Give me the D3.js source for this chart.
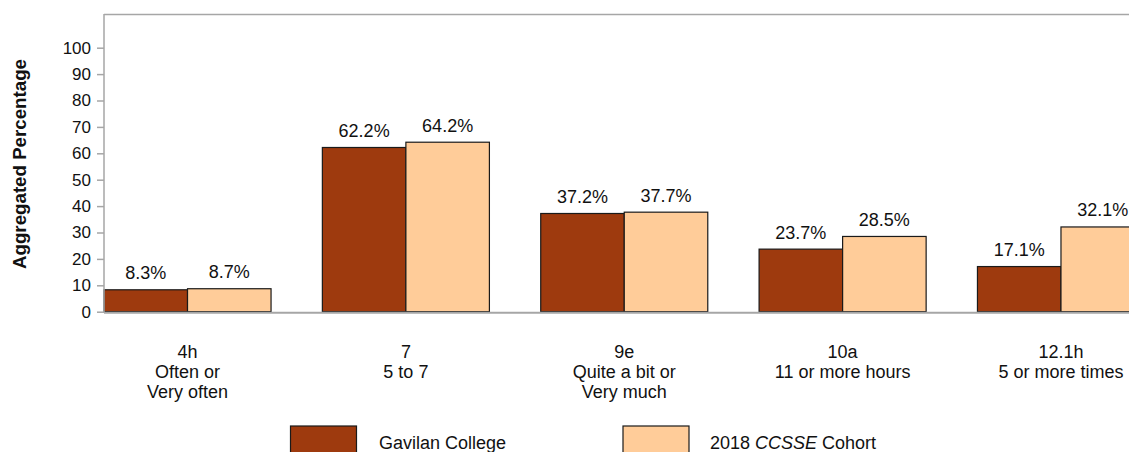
<!DOCTYPE html>
<html>
<head>
<meta charset="utf-8">
<script src="https://cdn.jsdelivr.net/npm/d3@7"></script>
<style>
  html, body { margin: 0; padding: 0; background: #fff; overflow: hidden; }
  svg { display: block; font-family: "Liberation Sans", Arial, sans-serif; }
</style>
</head>
<body>
<svg id="chart" width="1129" height="452"></svg>
<script>
const categories = ["4h", "7", "9e", "10a", "12.1h"];
const categoryLines = [
  ["4h", "Often or", "Very often"],
  ["7", "5 to 7"],
  ["9e", "Quite a bit or", "Very much"],
  ["10a", "11 or more hours"],
  ["12.1h", "5 or more times"]
];
const seriesNames = ["Gavilan College", "2018 CCSSE Cohort"];
const gavilan = [8.3, 62.2, 37.2, 23.7, 17.1];
const cohort = [8.7, 64.2, 37.7, 28.5, 32.1];
const yTicks = [0, 10, 20, 30, 40, 50, 60, 70, 80, 90, 100];
const colors = ["#9E3A0E", "#FFCC99"];

(function () {
const svg = d3.select("#chart");
const W = 1129;
const plotLeft = 104, plotTop = 14, plotBottom = 311.7;

const x0 = d3.scaleBand().domain(categories).range([plotLeft, 1144.5]).paddingInner(0.235).paddingOuter(0);
const x1 = d3.scaleBand().domain(seriesNames).range([0, x0.bandwidth()]).padding(0);
const y = d3.scaleLinear().domain([0, 100]).range([plotBottom, 47.7]);

const axisColor = "#a6a6a6";

// frame top line
svg.append("line").attr("x1", plotLeft).attr("x2", W).attr("y1", plotTop + 0.5).attr("y2", plotTop + 0.5)
  .attr("stroke", axisColor).attr("stroke-width", 1.5);

// bars
const data = categories.map((c, i) => ({ cat: c, vals: [gavilan[i], cohort[i]] }));
const groups = svg.append("g").selectAll("g").data(data).join("g")
  .attr("transform", d => `translate(${x0(d.cat)},0)`);
groups.selectAll("rect").data(d => d.vals.map((v, j) => ({ v, s: seriesNames[j], j })))
  .join("rect")
  .attr("x", d => x1(d.s))
  .attr("y", d => y(d.v))
  .attr("width", x1.bandwidth())
  .attr("height", d => y(0) - y(d.v))
  .attr("fill", d => colors[d.j])
  .attr("stroke", "#1a1a1a")
  .attr("stroke-width", 1.2);
groups.selectAll("text.val").data(d => d.vals.map((v, j) => ({ v, s: seriesNames[j], j })))
  .join("text").attr("class", "val")
  .attr("x", d => x1(d.s) + x1.bandwidth() / 2)
  .attr("y", d => y(d.v) - 10.5)
  .attr("text-anchor", "middle")
  .attr("font-size", 18)
  .attr("fill", "#111")
  .text(d => d.v.toFixed(1) + "%");

// y axis
const yAxis = d3.axisLeft(y).tickValues(yTicks).tickSize(7).tickPadding(6).tickFormat(d3.format("d"));
const ya = svg.append("g").attr("transform", `translate(${plotLeft},0)`).call(yAxis);
ya.select(".domain").remove();
ya.selectAll(".tick line").attr("stroke", axisColor).attr("stroke-width", 1.5);
ya.selectAll(".tick text").attr("font-size", 17).attr("fill", "#111")
  .attr("font-family", "Liberation Sans, Arial, sans-serif");
svg.append("line").attr("x1", plotLeft).attr("x2", plotLeft).attr("y1", plotTop).attr("y2", plotBottom + 1)
  .attr("stroke", axisColor).attr("stroke-width", 1.5);

// x axis baseline
svg.append("line").attr("x1", plotLeft).attr("x2", W).attr("y1", plotBottom + 1).attr("y2", plotBottom + 1)
  .attr("stroke", axisColor).attr("stroke-width", 2);

// category labels
categories.forEach((c, i) => {
  const cx = x0(c) + x0.bandwidth() / 2;
  const t = svg.append("text")
    .attr("x", cx)
    .attr("y", 358)
    .attr("text-anchor", "middle")
    .attr("font-size", 18)
    .attr("fill", "#111");
  categoryLines[i].forEach((line, k) => {
    t.append("tspan").attr("x", cx).attr("dy", k === 0 ? 0 : 20).text(line);
  });
});

// y label
svg.append("text")
  .attr("transform", `translate(26,164) rotate(-90)`)
  .attr("text-anchor", "middle")
  .attr("font-size", 17.5)
  .attr("font-weight", "bold")
  .attr("fill", "#111")
  .attr("textLength", 210)
  .attr("lengthAdjust", "spacingAndGlyphs")
  .text("Aggregated Percentage");

// legend
const legendX = [290.5, 623];
const legendTextX = [379, 710];
seriesNames.forEach((s, j) => {
  svg.append("rect")
    .attr("x", legendX[j]).attr("y", 426)
    .attr("width", 66).attr("height", 28)
    .attr("fill", colors[j]).attr("stroke", "#1a1a1a").attr("stroke-width", 1.2);
  const t = svg.append("text").attr("x", legendTextX[j]).attr("y", 449)
    .attr("font-size", 18).attr("fill", "#111");
  if (j === 0) {
    t.text(s);
  } else {
    t.append("tspan").text("2018 ");
    t.append("tspan").attr("font-style", "italic").text("CCSSE");
    t.append("tspan").text(" Cohort");
  }
});
})();
</script>
</body>
</html>
